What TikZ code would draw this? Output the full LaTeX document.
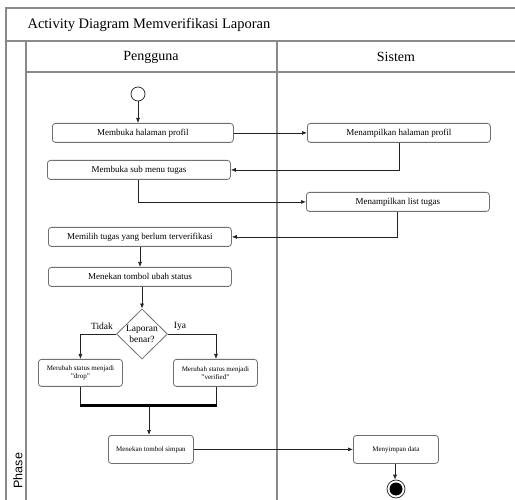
\documentclass[tikz,border=0pt]{standalone}
\usepackage{fontspec}
\setmainfont{Liberation Serif}
\newfontfamily\phasefont{Liberation Sans}
\usetikzlibrary{shapes.geometric,arrows.meta}
\definecolor{frame}{HTML}{8A8A8A}
\definecolor{boxline}{HTML}{707070}
\definecolor{flow}{HTML}{222222}
\tikzset{
  lane/.style={draw=frame, line width=1.1pt},
  act/.style={draw=boxline, rounded corners=3pt, line width=0.8pt, inner sep=0pt, anchor=north west},
  bigact/.style={act, minimum height=19pt, font=\fontsize{9}{10}\selectfont},
  smallact/.style={act, minimum width=84pt, align=center, font=\fontsize{7}{8.4}\selectfont},
  flowline/.style={draw=flow, line width=0.7pt, -{Latex[length=5pt,width=4pt]}},
  plainline/.style={draw=flow, line width=0.7pt},
}
\begin{document}
\begin{tikzpicture}[x=1pt,y=-1pt]
\useasboundingbox (0,0) rectangle (515,500);
% swimlane frame
\draw[lane] (516,8) -- (6,8) -- (6,502);
\draw[lane] (6,41) -- (516,41);
\draw[lane] (26,41) -- (26,502);
\draw[lane] (26,72) -- (516,72);
\draw[lane] (277,41) -- (277,502);
\node[anchor=west, font=\fontsize{14.5}{16}\selectfont] (title) at (24,25) {Activity Diagram Memverifikasi Laporan};
\node[font=\fontsize{14}{16}\selectfont] (lane1) at (151,57) {Pengguna};
\node[font=\fontsize{14}{16}\selectfont] (lane2) at (396,57) {Sistem};
\node[rotate=90, anchor=west, font=\phasefont\fontsize{12.5}{15}\selectfont] (phase) at (18,492) {Phase};

% start
\node[circle, draw=flow, line width=0.7pt, minimum size=14pt, inner sep=0pt] (start) at (138,94) {};

% activities
\node[bigact, minimum width=181pt] (a1) at (52,123) {Membuka halaman profil};
\node[bigact, minimum width=183pt] (a2) at (307,123) {Menampilkan halaman profil};
\node[bigact, minimum width=183pt] (a3) at (47,160) {Membuka sub menu tugas};
\node[bigact, minimum width=183pt] (a4) at (306,192) {Menampilkan list tugas};
\node[bigact, minimum width=183pt] (a5) at (48,227) {Memilih tugas yang berlum terverifikasi};
\node[bigact, minimum width=183pt] (a6) at (48,267) {Menekan tombol ubah status};

% decision
\node[diamond, draw=boxline, line width=0.8pt, minimum width=51pt, minimum height=50pt, inner sep=0pt, align=center, font=\fontsize{9.5}{11}\selectfont] (dec) at (142,334) {Laporan\\benar?};
\node[font=\fontsize{9.5}{11}\selectfont] (tidak) at (102,326) {Tidak};
\node[font=\fontsize{9.5}{11}\selectfont] (iya) at (180,326) {Iya};

\node[smallact, minimum height=27pt] (a7) at (38,359) {Merubah status menjadi\\"drop"};
\node[smallact, minimum height=27pt] (a8) at (173,359) {Merubah status menjadi\\"verified"};

% join bar
\node[fill=black, minimum width=137pt, minimum height=3pt, inner sep=0pt] (bar) at (148,405.5) {};

\node[smallact, minimum width=85pt, minimum height=28pt] (a9) at (108,435) {Menekan tombol simpan};
\node[smallact, minimum width=85pt, minimum height=28pt] (a10) at (353,435) {Menyimpan data};

% end
\node[circle, draw=flow, line width=0.7pt, minimum size=18pt, inner sep=0pt] (endo) at (396,489) {};
\node[circle, fill=black, minimum size=13pt, inner sep=0pt] (endi) at (endo) {};

% flows
\draw[flowline] (start) -- (start |- a1.north);
\draw[flowline] (a1.east) -- (a2.west);
\draw[flowline] (a2.south -| 399,0) |- (a3.east);
\draw[flowline] (a3.south -| 138,0) |- (a4.west);
\draw[flowline] (a4.south -| 397,0) |- (a5.east);
\draw[flowline] (a5.south -| 140,0) -- (140,0 |- a6.north);
\draw[flowline] (a6.south -| 142,0) -- (dec.north);
\draw[flowline] (dec.west) -| (a7.north);
\draw[flowline] (dec.east) -| (a8.north -| 216,0);
\draw[plainline] (a7.south) -- (a7.south |- bar.north);
\draw[plainline] (a8.south -| 216,0) -- (216,0 |- bar.north);
\draw[flowline] (bar.south -| 149,0) -- (149,0 |- a9.north);
\draw[flowline] (a9.east) -- (a10.west);
\draw[flowline] (a10.south -| 395,0) -- (395,0 |- endo.north);
\end{tikzpicture}
\end{document}
